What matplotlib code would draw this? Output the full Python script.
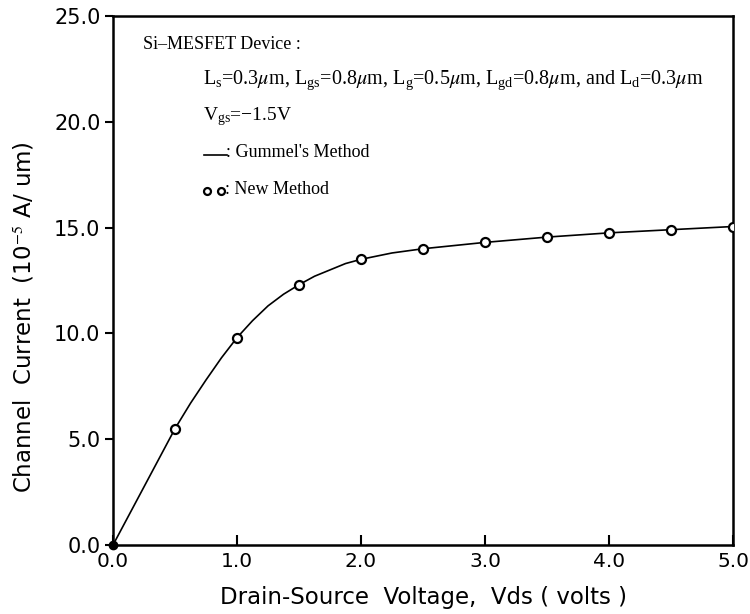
import numpy as np
import matplotlib
matplotlib.use('Agg')
from matplotlib import pyplot as plt

# Data
# New method (circles)
vds_new = [0.0, 0.5, 1.0, 1.5, 2.0, 2.5, 3.0, 3.5, 4.0, 4.5, 5.0]
id_new = [0.0, 5.5, 9.8, 12.3, 13.5, 14.0, 14.3, 14.55, 14.75, 14.9, 15.05]

# Gummel's method (solid line)
vds_gum = [0.0, 0.25, 0.5, 0.625, 0.75, 0.875, 1.0, 1.125, 1.25, 1.375, 1.5,
           1.625, 1.75, 1.875, 2.0, 2.25, 2.5, 2.75, 3.0, 3.5, 4.0, 4.5, 5.0]
id_gum = [0.0, 2.75, 5.5, 6.7, 7.8, 8.85, 9.8, 10.6, 11.3, 11.85, 12.3,
          12.7, 13.0, 13.3, 13.5, 13.8, 14.0, 14.15, 14.3, 14.55, 14.75, 14.9, 15.05]

xticks = [0.0, 1.0, 2.0, 3.0, 4.0, 5.0]
yticks = [0.0, 5.0, 10.0, 15.0, 20.0, 25.0]

plt.rcParams['mathtext.fontset'] = 'stix'
serif = 'Liberation Serif'

fig = plt.figure(figsize=(7.5, 6.14), dpi=100)
ax = fig.add_axes([0.1507, 0.1124, 0.8267, 0.8616])

ax.plot(vds_gum, id_gum, color='black', lw=1.2, zorder=3)
ax.plot(vds_new[1:], id_new[1:], 'o', mfc='white', mec='black', mew=1.6, ms=6.5, zorder=4)
ax.plot(vds_new[0], id_new[0], 'o', color='black', ms=6, zorder=5, clip_on=False)

ax.set_xlim(0, 5)
ax.set_ylim(0, 25)
ax.set_xticks(xticks)
ax.set_yticks(yticks)
ax.set_xticklabels(['%.1f' % t for t in xticks])
ax.set_yticklabels(['%.1f' % t for t in yticks])
ax.tick_params(axis='x', direction='in', length=7, width=1.5, labelsize=14.5, pad=5)
ax.tick_params(axis='y', direction='out', length=6, width=1.5, labelsize=15, pad=3)
for s in ax.spines.values():
    s.set_linewidth(1.8)

ax.set_xlabel('Drain-Source  Voltage,  Vds ( volts )', fontsize=16.5)
ax.set_ylabel('Channel  Current  (10$^{-5}$ A/ um)', fontsize=16.5)
ax.xaxis.set_label_coords(0.50, -0.078)
ax.yaxis.set_label_coords(-0.124, 0.43)

# Annotations
def axpos(px, py):
    return ((px - 113) / 620.0, (545 - py) / 529.0)

ax.text(*axpos(143, 45), 'Si\u2013MESFET Device :', transform=ax.transAxes,
        fontsize=13, family=serif, va='center')
ax.text(*axpos(203, 80),
        r'$\mathregular{L_s}$=0.3$\mu$m, $\mathregular{L_{gs}}$=0.8$\mu$m, $\mathregular{L_g}$=0.5$\mu$m, '
        r'$\mathregular{L_{gd}}$=0.8$\mu$m, and $\mathregular{L_d}$=0.3$\mu$m',
        transform=ax.transAxes, fontsize=14.5, family=serif, va='center')
ax.text(*axpos(203, 117), r'$\mathregular{V_{gs}}$=' + '\u22121.5V', transform=ax.transAxes,
        fontsize=14, family=serif, va='center')
x0, y0 = axpos(204, 155)
x1, _ = axpos(227, 155)
ax.plot([x0, x1], [y0, y0], color='black', lw=1.2, transform=ax.transAxes, clip_on=False)
ax.text(*axpos(226, 153), ": Gummel's Method", transform=ax.transAxes,
        fontsize=13, family=serif, va='center')
xa, ya = axpos(207, 191)
xb, _ = axpos(221, 191)
ax.plot([xa, xb], [ya, ya], 'o', mfc='white', mec='black', mew=1.6, ms=5,
        transform=ax.transAxes, clip_on=False)
ax.text(*axpos(225, 190), ': New Method', transform=ax.transAxes,
        fontsize=13, family=serif, va='center')

fig.savefig('out.png', dpi=100)
